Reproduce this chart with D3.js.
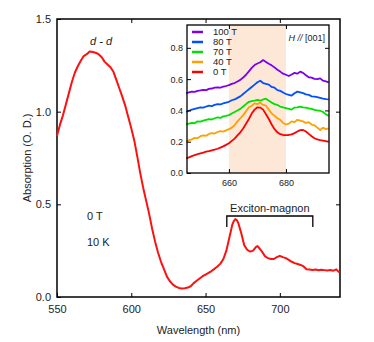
<!DOCTYPE html>
<html>
<head>
<meta charset="utf-8">
<script src="https://cdn.jsdelivr.net/npm/d3@7"></script>
<style>
  body { margin: 0; background: #fff; }
  svg { font-family: "Liberation Sans", Arial, sans-serif; }
  .axis path, .axis line { stroke: #000; }
</style>
</head>
<body>
<div id="chart"></div>
<script>
// main spectrum, 0 T, 10 K
var mainWl = [550,552,554,556,558,560,562,564,566,568,570,572,574,576,578,580,582,584,586,588,590,592,594,596,598,600,602,604,606,608,610,612,614,616,618,620,622,624,626,628,630,632,634,636,638,640,642,644,646,648,650,652,654,656,658,660,662,664,666,668,669,670,671,672,674,676,678,680,682,684,685,686,688,690,692,694,696,698,700,702,704,706,708,710,712,714,716,718,720,722,724,726,728,730,732,734,736,738,740];
var mainAbs = [0.87,0.93,0.98,1.04,1.10,1.16,1.21,1.245,1.275,1.30,1.31,1.325,1.322,1.318,1.31,1.295,1.27,1.255,1.24,1.215,1.17,1.125,1.08,1.03,0.97,0.91,0.845,0.76,0.67,0.59,0.52,0.45,0.37,0.30,0.24,0.19,0.15,0.11,0.085,0.067,0.056,0.049,0.046,0.047,0.051,0.058,0.075,0.088,0.10,0.112,0.121,0.13,0.14,0.152,0.165,0.18,0.205,0.25,0.32,0.39,0.41,0.42,0.415,0.40,0.345,0.28,0.255,0.245,0.25,0.27,0.275,0.265,0.245,0.22,0.21,0.205,0.205,0.215,0.222,0.215,0.21,0.20,0.19,0.183,0.178,0.173,0.165,0.15,0.148,0.146,0.148,0.144,0.147,0.145,0.143,0.146,0.142,0.149,0.133];

// inset spectra, offset per field
var insetWl = [645,646,647,648,649,650,651,652,653,654,655,656,657,658,659,660,661,662,663,664,665,666,667,668,669,670,671,672,673,674,675,676,677,678,679,680,681,682,683,684,685,686,687,688,689,690,691,692,693,694,695];
var abs0T = [0.094,0.10,0.108,0.115,0.12,0.126,0.13,0.136,0.14,0.145,0.149,0.155,0.162,0.17,0.18,0.19,0.205,0.22,0.24,0.26,0.285,0.315,0.345,0.38,0.405,0.42,0.418,0.405,0.375,0.345,0.31,0.28,0.26,0.248,0.243,0.242,0.243,0.247,0.255,0.265,0.274,0.275,0.265,0.25,0.235,0.222,0.215,0.21,0.207,0.203,0.20];
var abs40T = [0.20,0.21,0.215,0.225,0.222,0.235,0.24,0.238,0.25,0.255,0.252,0.262,0.268,0.265,0.272,0.28,0.29,0.305,0.33,0.35,0.37,0.395,0.42,0.43,0.445,0.44,0.45,0.435,0.43,0.405,0.38,0.365,0.35,0.34,0.32,0.31,0.315,0.33,0.325,0.34,0.335,0.33,0.32,0.325,0.31,0.305,0.29,0.275,0.29,0.28,0.285];
var abs70T = [0.31,0.315,0.32,0.318,0.33,0.328,0.335,0.34,0.345,0.342,0.35,0.355,0.352,0.362,0.365,0.37,0.38,0.39,0.40,0.41,0.425,0.44,0.455,0.46,0.462,0.468,0.462,0.47,0.475,0.462,0.45,0.44,0.435,0.425,0.42,0.415,0.41,0.405,0.418,0.42,0.425,0.42,0.418,0.413,0.41,0.403,0.40,0.398,0.39,0.375,0.365];
var abs80T = [0.39,0.398,0.405,0.41,0.415,0.42,0.418,0.425,0.43,0.428,0.435,0.44,0.438,0.445,0.45,0.455,0.465,0.47,0.48,0.49,0.505,0.52,0.535,0.55,0.565,0.58,0.59,0.575,0.57,0.565,0.55,0.545,0.53,0.525,0.515,0.505,0.50,0.495,0.51,0.52,0.515,0.51,0.503,0.50,0.49,0.488,0.485,0.48,0.475,0.472,0.47];
var abs100T = [0.51,0.515,0.52,0.518,0.525,0.528,0.532,0.53,0.538,0.54,0.545,0.548,0.545,0.552,0.556,0.562,0.57,0.575,0.585,0.595,0.61,0.628,0.65,0.672,0.69,0.70,0.708,0.722,0.71,0.698,0.688,0.675,0.66,0.648,0.635,0.628,0.62,0.63,0.64,0.635,0.648,0.64,0.625,0.612,0.61,0.602,0.60,0.605,0.59,0.585,0.58];

var legendLabels = ["100 T", "80 T", "70 T", "40 T", "0 T"];
var legendColors = ["#7a00f0", "#0050ff", "#00e000", "#ffa000", "#ff0000"];
var insetSeries = [abs100T, abs80T, abs70T, abs40T, abs0T];

var mainXTicks = [550, 600, 650, 700];
var mainYTicks = [0, 0.5, 1.0, 1.5];
var insetXTicks = [660, 680];
var insetYTicks = [0, 0.2, 0.4, 0.6, 0.8];
var shadeRange = [660, 680];
var bracketRange = [664.3, 722.2];

var W = 374, H = 342;
var svg = d3.select("#chart").append("svg").attr("width", W).attr("height", H);

// main panel
var m = {left: 57, right: 340, top: 19, bottom: 297};
var x = d3.scaleLinear().domain([550, 740.5]).range([m.left, m.right]);
var y = d3.scaleLinear().domain([0, 1.5]).range([m.bottom, m.top]);

svg.append("g").attr("class", "axis")
    .attr("transform", "translate(0," + m.bottom + ")")
    .call(d3.axisBottom(x).tickValues(mainXTicks).tickSizeInner(-4).tickSizeOuter(0).tickPadding(8).tickFormat(d3.format("d")))
    .call(function(g) { g.select(".domain").remove(); })
    .selectAll("text").attr("font-size", 11).attr("fill", "#222");
svg.append("g").attr("class", "axis")
    .attr("transform", "translate(0," + m.top + ")")
    .call(d3.axisTop(x).tickValues([600, 650, 700]).tickSizeInner(-4).tickSizeOuter(0).tickFormat(""))
    .call(function(g) { g.select(".domain").remove(); });
svg.append("g").attr("class", "axis")
    .attr("transform", "translate(" + m.left + ",0)")
    .call(d3.axisLeft(y).tickValues(mainYTicks).tickSizeInner(-4).tickSizeOuter(0).tickPadding(6).tickFormat(d3.format(".1f")))
    .call(function(g) { g.select(".domain").remove(); })
    .selectAll("text").attr("font-size", 11).attr("fill", "#222");
svg.append("g").attr("class", "axis")
    .attr("transform", "translate(" + m.right + ",0)")
    .call(d3.axisRight(y).tickValues([0.5, 1.0]).tickSizeInner(-4).tickSizeOuter(0).tickFormat(""))
    .call(function(g) { g.select(".domain").remove(); });

svg.append("rect")
    .attr("x", m.left).attr("y", m.top)
    .attr("width", m.right - m.left).attr("height", m.bottom - m.top)
    .attr("fill", "none").attr("stroke", "#000").attr("stroke-width", 1.5);

var mainLine = d3.line().x(function(d, i) { return x(mainWl[i]); }).y(function(d) { return y(d); });
svg.append("path").datum(mainAbs)
    .attr("d", mainLine)
    .attr("fill", "none").attr("stroke", "#ff1010").attr("stroke-width", 2).attr("stroke-linejoin", "round");

svg.append("text").attr("x", 28).attr("y", (m.top + m.bottom) / 2)
    .attr("transform", "rotate(-90,28," + ((m.top + m.bottom) / 2) + ")")
    .attr("text-anchor", "middle").attr("dominant-baseline", "middle")
    .attr("font-size", 11).attr("fill", "#222").text("Absorption (O. D.)");
svg.append("text").attr("x", (m.left + m.right) / 2).attr("y", 334)
    .attr("text-anchor", "middle").attr("font-size", 11).attr("fill", "#222").text("Wavelength (nm)");

svg.append("text").attr("x", 101).attr("y", 45).attr("text-anchor", "middle")
    .attr("font-size", 11).attr("fill", "#222").attr("font-style", "italic").text("d - d");
svg.append("text").attr("x", 87).attr("y", 220).attr("font-size", 11).attr("fill", "#222").text("0 T");
svg.append("text").attr("x", 87).attr("y", 246).attr("font-size", 11).attr("fill", "#222").text("10 K");

// exciton-magnon bracket
var bTop = 216, bBot = 227;
svg.append("path")
    .attr("d", "M" + x(bracketRange[0]) + "," + bBot + "V" + bTop + "H" + x(bracketRange[1]) + "V" + bBot)
    .attr("fill", "none").attr("stroke", "#000").attr("stroke-width", 1.3);
svg.append("text").attr("x", (x(bracketRange[0]) + x(bracketRange[1])) / 2).attr("y", 212)
    .attr("text-anchor", "middle").attr("font-size", 11).attr("fill", "#222").text("Exciton-magnon");

// inset panel
var n = {left: 187, right: 329, top: 25, bottom: 173};
var xi = d3.scaleLinear().domain([645.3, 695.1]).range([n.left, n.right]);
var yi = d3.scaleLinear().domain([0, 0.946]).range([n.bottom, n.top]);

svg.append("rect").attr("x", n.left).attr("y", n.top)
    .attr("width", n.right - n.left).attr("height", n.bottom - n.top).attr("fill", "#fff");
svg.append("rect")
    .attr("x", xi(shadeRange[0])).attr("y", n.top)
    .attr("width", xi(shadeRange[1]) - xi(shadeRange[0])).attr("height", n.bottom - n.top)
    .attr("fill", "#fde8d8");

var insetLine = d3.line().x(function(d, i) { return xi(insetWl[i]); }).y(function(d) { return yi(d); });
insetSeries.forEach(function(s, k) {
  svg.append("path").datum(s)
      .attr("d", insetLine)
      .attr("fill", "none").attr("stroke", legendColors[k]).attr("stroke-width", 1.8).attr("stroke-linejoin", "round");
});

svg.append("g").attr("class", "axis")
    .attr("transform", "translate(0," + n.bottom + ")")
    .call(d3.axisBottom(xi).tickValues(insetXTicks).tickSizeInner(-4).tickSizeOuter(0).tickPadding(7))
    .call(function(g) { g.select(".domain").remove(); })
    .selectAll("text").attr("font-size", 9).attr("fill", "#222");
svg.append("g").attr("class", "axis")
    .attr("transform", "translate(0," + n.top + ")")
    .call(d3.axisTop(xi).tickValues(insetXTicks).tickSizeInner(-4).tickSizeOuter(0).tickFormat(""))
    .call(function(g) { g.select(".domain").remove(); });
svg.append("g").attr("class", "axis")
    .attr("transform", "translate(" + n.left + ",0)")
    .call(d3.axisLeft(yi).tickValues(insetYTicks).tickSizeInner(-4).tickSizeOuter(0).tickPadding(4).tickFormat(d3.format(".1f")))
    .call(function(g) { g.select(".domain").remove(); })
    .selectAll("text").attr("font-size", 9).attr("fill", "#222");
svg.append("g").attr("class", "axis")
    .attr("transform", "translate(" + n.right + ",0)")
    .call(d3.axisRight(yi).tickValues([0.4, 0.8]).tickSizeInner(-4).tickSizeOuter(0).tickFormat(""))
    .call(function(g) { g.select(".domain").remove(); });

svg.append("rect").attr("x", n.left).attr("y", n.top)
    .attr("width", n.right - n.left).attr("height", n.bottom - n.top)
    .attr("fill", "none").attr("stroke", "#000").attr("stroke-width", 1.3);

// legend
var leg = svg.append("g").selectAll("g").data(legendLabels).enter().append("g")
    .attr("transform", function(d, i) { return "translate(192," + (32 + i * 10) + ")"; });
leg.append("line").attr("x1", 0).attr("x2", 11).attr("y1", 0).attr("y2", 0)
    .attr("stroke", function(d, i) { return legendColors[i]; }).attr("stroke-width", 2.5);
leg.append("text").attr("x", 21).attr("y", 0).attr("dominant-baseline", "middle")
    .attr("font-size", 9.5).attr("fill", "#222").text(function(d) { return d; });

var hl = svg.append("text").attr("x", 325).attr("y", 41).attr("text-anchor", "end")
    .attr("font-size", 9).attr("fill", "#222");
hl.append("tspan").attr("font-style", "italic").text("H // ");
hl.append("tspan").text("[001]");
</script>
</body>
</html>
